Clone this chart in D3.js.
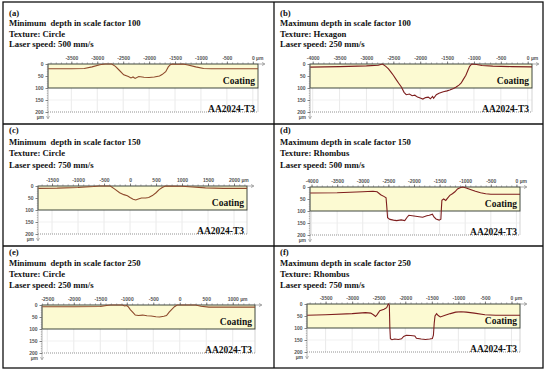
<!DOCTYPE html>
<html>
<head>
<meta charset="utf-8">
<script src="https://cdnjs.cloudflare.com/ajax/libs/d3/7.8.5/d3.min.js"></script>
<style>
body { margin: 0; background: #fff; }
.tick text { fill: #555; }
</style>
</head>
<body>
<div id="chart"></div>
<script>
var width = 550;
var height = 375;

// panel texts
var panelLetters = ["(a)", "(b)", "(c)", "(d)", "(e)", "(f)"];
var titles = ["Minimum  depth in scale factor 100", "Maximum depth in scale factor 100",
              "Minimum  depth in scale factor 150", "Maximum depth in scale factor 150",
              "Minimum  depth in scale factor 250", "Maximum depth in scale factor 250"];
var textures = ["Texture: Circle", "Texture: Hexagon", "Texture: Circle",
                "Texture: Rhombus", "Texture: Circle", "Texture: Rhombus"];
var speeds = ["Laser speed: 500 mm/s", "Laser speed: 250 mm/s", "Laser speed: 750 mm/s",
              "Laser speed: 500 mm/s", "Laser speed: 250 mm/s", "Laser speed: 750 mm/s"];

// x ticks (um) for every panel
var xTicksA = [-3500, -3000, -2500, -2000, -1500, -1000, -500, 0];
var xTicksB = [-4000, -3500, -3000, -2500, -2000, -1500, -1000, -500, 0];
var xTicksC = [-1500, -1000, -500, 0, 500, 1000, 1500, 2000];
var xTicksD = [-4000, -3500, -3000, -2500, -2000, -1500, -1000, -500, 0];
var xTicksE = [-2500, -2000, -1500, -1000, -500, 0, 500, 1000];
var xTicksF = [-3500, -3000, -2500, -2000, -1500, -1000, -500, 0];

// x extents (um) of each profile window
var xExtentA = [-3950, 100];
var xExtentB = [-4050, 80];
var xExtentC = [-1770, 2250];
var xExtentD = [-4030, 70];
var xExtentE = [-2600, 1420];
var xExtentF = [-3850, 160];

var depthTicks = [0, 50, 100, 150, 200];
var depthMax = 200;
var coatingDepth = 100;

// profiles: [position um, depth um]
var profileA = [[-3950,20],[-3500,20],[-3250,19],[-3100,12],[-2950,3],[-2850,0],[-2720,0],[-2650,10],[-2580,25],
  [-2490,45],[-2400,52],[-2350,58],[-2310,54],[-2270,60],[-2200,52],[-2100,55],[-2000,56],[-1900,54],[-1800,50],
  [-1750,44],[-1680,32],[-1630,12],[-1590,3],[-1550,0],[-1450,1],[-1350,0],[-1250,4],[-1100,12],[-950,19],
  [-800,20],[-400,20],[0,20],[100,20]];
var profileB = [[-4050,13],[-3500,11],[-3000,8],[-2780,5],[-2700,0],[-2640,10],[-2590,20],[-2540,35],[-2500,47],
  [-2440,67],[-2400,80],[-2350,96],[-2300,118],[-2260,128],[-2200,125],[-2150,132],[-2100,130],[-2050,138],
  [-2000,142],[-1950,146],[-1900,140],[-1850,138],[-1810,145],[-1770,135],[-1750,143],[-1700,128],[-1650,122],
  [-1570,116],[-1500,112],[-1450,108],[-1380,102],[-1330,96],[-1280,88],[-1240,80],[-1200,65],[-1150,47],
  [-1110,25],[-1080,10],[-1040,0],[-950,2],[-850,6],[-650,9],[-300,11],[80,12]];
var profileC = [[-1770,10],[-1400,9],[-1000,6],[-700,2],[-600,0],[-380,0],[-300,12],[-200,28],[-120,36],[-50,41],
  [0,48],[60,55],[110,58],[160,54],[220,50],[300,50],[360,48],[430,40],[500,28],[560,15],[620,6],[680,0],
  [1000,1],[1200,4],[1450,8],[1800,10],[2250,10]];
var profileD = [[-4030,25],[-3500,24],[-3000,20],[-2800,18],[-2720,20],[-2650,32],[-2580,40],[-2545,45],[-2530,85],
  [-2515,128],[-2470,135],[-2400,138],[-2340,140],[-2250,137],[-2180,140],[-2130,125],[-2100,118],[-2000,121],
  [-1900,124],[-1830,126],[-1750,120],[-1700,118],[-1640,113],[-1610,125],[-1570,133],[-1510,138],[-1475,134],
  [-1465,90],[-1455,55],[-1420,50],[-1380,56],[-1340,45],[-1300,35],[-1250,28],[-1200,20],[-1150,8],[-1100,3],
  [-1050,0],[-980,4],[-900,10],[-800,18],[-700,24],[-600,28],[-500,30],[0,30],[70,30]];
var profileE = [[-2600,7],[-2000,7],[-1500,6],[-1350,1],[-1300,0],[-1080,0],[-1040,4],[-1000,2],[-970,8],[-930,20],
  [-880,32],[-840,42],[-780,44],[-700,42],[-620,45],[-540,46],[-450,49],[-380,50],[-300,47],[-250,44],[-200,30],
  [-150,18],[-100,7],[-50,0],[300,0],[400,5],[550,9],[800,9],[1420,9]];
var profileF = [[-3850,47],[-3500,45],[-3000,40],[-2750,36],[-2650,38],[-2600,45],[-2560,52],[-2530,44],[-2480,28],
  [-2400,22],[-2350,15],[-2320,0],[-2300,5],[-2290,100],[-2280,145],[-2250,149],[-2200,146],[-2130,148],
  [-2070,145],[-2030,135],[-1980,130],[-1900,131],[-1820,133],[-1790,143],[-1700,146],[-1620,148],[-1540,146],
  [-1490,144],[-1470,130],[-1455,80],[-1440,50],[-1410,40],[-1380,48],[-1340,54],[-1250,47],[-1150,40],
  [-1050,34],[-950,32],[-850,34],[-700,38],[-500,45],[-300,47],[160,47]];

// panel placement in the page
var panels = [
  {left: 3,   head: 16,  gap: 10.4, x0: 48,  x1: 258, y0: 64,  ticks: xTicksA, ext: xExtentA, profile: profileA, color: "#8e4a2c"},
  {left: 274, head: 16,  gap: 10.4, x0: 310, x1: 532, y0: 64,  ticks: xTicksB, ext: xExtentB, profile: profileB, color: "#7e1e1e"},
  {left: 3,   head: 133, gap: 11.5, x0: 38,  x1: 247, y0: 186, ticks: xTicksC, ext: xExtentC, profile: profileC, color: "#8e4a2c"},
  {left: 274, head: 133, gap: 11.5, x0: 310, x1: 520, y0: 187, ticks: xTicksD, ext: xExtentD, profile: profileD, color: "#7e1e1e"},
  {left: 3,   head: 255, gap: 11,   x0: 42,  x1: 255, y0: 305, ticks: xTicksE, ext: xExtentE, profile: profileE, color: "#8e4a2c"},
  {left: 274, head: 255, gap: 11,   x0: 307, x1: 520, y0: 304, ticks: xTicksF, ext: xExtentF, profile: profileF, color: "#7e1e1e"}
];

var serif = "'Liberation Serif', 'Times New Roman', serif";
var sans = "'Liberation Sans', Arial, sans-serif";

var svg = d3.select("#chart")
  .append("svg")
  .attr("width", width)
  .attr("height", height);

svg.append("rect")
  .attr("width", width).attr("height", height)
  .attr("fill", "#fff");

// frame and dividers
svg.append("rect")
  .attr("x", 3).attr("y", 2)
  .attr("width", 540).attr("height", 366)
  .attr("fill", "none").attr("stroke", "#111").attr("stroke-width", 1.3);
svg.append("line").attr("x1", 274).attr("x2", 274).attr("y1", 2).attr("y2", 368)
  .attr("stroke", "#111").attr("stroke-width", 1.3);
[124, 246].forEach(function(y) {
  svg.append("line").attr("x1", 3).attr("x2", 543).attr("y1", y).attr("y2", y)
    .attr("stroke", "#111").attr("stroke-width", 1.3);
});

panels.forEach(function(p, i) {
  var g = svg.append("g");

  // header texts
  var lines = [panelLetters[i], titles[i], textures[i], speeds[i]];
  g.selectAll("text.head")
    .data(lines)
    .enter()
    .append("text")
    .attr("class", "head")
    .attr("x", p.left + 6)
    .attr("y", function(d, k) { return p.head + k * p.gap; })
    .attr("font-family", serif)
    .attr("font-weight", "bold")
    .attr("font-size", "8.7px")
    .attr("fill", "#111")
    .style("white-space", "pre")
    .text(function(d) { return d; });

  var xScale = d3.scaleLinear().domain(p.ext).range([p.x0, p.x1]);
  var yScale = d3.scaleLinear().domain([0, depthMax]).range([p.y0, p.y0 + 48]);

  // light grid in the substrate area
  g.selectAll("line.vgrid")
    .data(p.ticks)
    .enter()
    .append("line")
    .attr("x1", function(d) { return xScale(d); })
    .attr("x2", function(d) { return xScale(d); })
    .attr("y1", yScale(coatingDepth)).attr("y2", yScale(depthMax))
    .attr("stroke", "#e4e4e4").attr("stroke-width", 0.8);
  g.append("line")
    .attr("x1", p.x0).attr("x2", p.x1)
    .attr("y1", yScale(150)).attr("y2", yScale(150))
    .attr("stroke", "#eeeeee").attr("stroke-width", 0.8);
  g.append("line")
    .attr("x1", p.x1).attr("x2", p.x1)
    .attr("y1", yScale(coatingDepth)).attr("y2", yScale(depthMax))
    .attr("stroke", "#c8c8c8").attr("stroke-width", 0.8);

  // dotted line at 200 um
  g.append("line")
    .attr("x1", p.x0).attr("x2", p.x1)
    .attr("y1", yScale(depthMax)).attr("y2", yScale(depthMax))
    .attr("stroke", "#777").attr("stroke-width", 0.8)
    .attr("stroke-dasharray", "1,1");

  // coating band
  g.append("rect")
    .attr("x", p.x0).attr("y", yScale(0))
    .attr("width", p.x1 - p.x0)
    .attr("height", yScale(coatingDepth) - yScale(0))
    .attr("fill", "#fcfad2")
    .attr("stroke", "#2b332b").attr("stroke-width", 0.9);

  // profile line
  var line = d3.line()
    .x(function(d) { return xScale(d[0]); })
    .y(function(d) { return yScale(d[1]); });
  g.append("path")
    .datum(p.profile)
    .attr("d", line)
    .attr("fill", "none")
    .attr("stroke", p.color)
    .attr("stroke-width", 1.1);

  // x axis (top)
  var minor = d3.range(Math.ceil(p.ext[0] / 100) * 100, p.ext[1], 100);
  var xMinor = g.append("g")
    .attr("transform", "translate(0," + p.y0 + ")")
    .call(d3.axisTop(xScale).tickValues(minor).tickSize(1.5).tickFormat(""));
  xMinor.select(".domain").remove();
  xMinor.selectAll("line").attr("stroke", "#666").attr("stroke-width", 0.6);

  var xAxis = g.append("g")
    .attr("transform", "translate(0," + p.y0 + ")")
    .call(d3.axisTop(xScale).tickValues(p.ticks).tickSize(2.5).tickPadding(2)
      .tickFormat(function(d) { return String(d); }));
  xAxis.select(".domain").remove();
  xAxis.selectAll("line").attr("stroke", "#555").attr("stroke-width", 0.7);
  xAxis.selectAll("text")
    .attr("font-family", sans)
    .attr("font-size", "5px")
    .attr("font-weight", "bold");

  // unit after last tick label
  var last = xAxis.selectAll(".tick text").filter(function(d) { return d === p.ticks[p.ticks.length - 1]; });
  last.each(function() {
    var w = this.getComputedTextLength();
    d3.select(this).attr("text-anchor", "start").attr("x", -w / 2);
    d3.select(this).append("tspan").text(" \u00b5m");
  });

  // axis arrow to the right
  g.append("line")
    .attr("x1", p.x1).attr("x2", p.x1 + 6)
    .attr("y1", p.y0).attr("y2", p.y0)
    .attr("stroke", "#777").attr("stroke-width", 0.6);
  g.append("path")
    .attr("d", "M" + (p.x1 + 4) + "," + (p.y0 - 1.5) + " L" + (p.x1 + 7) + "," + p.y0 + " L" + (p.x1 + 4) + "," + (p.y0 + 1.5))
    .attr("fill", "none").attr("stroke", "#777").attr("stroke-width", 0.6);

  // y axis (left)
  var yMinor = g.append("g")
    .attr("transform", "translate(" + p.x0 + ",0)")
    .call(d3.axisLeft(yScale).tickValues(d3.range(0, depthMax + 1, 10)).tickSize(1.2).tickFormat(""));
  yMinor.select(".domain").remove();
  yMinor.selectAll("line").attr("stroke", "#777").attr("stroke-width", 0.5);

  var yAxis = g.append("g")
    .attr("transform", "translate(" + p.x0 + ",0)")
    .call(d3.axisLeft(yScale).tickValues(depthTicks).tickSize(2.5).tickPadding(2));
  yAxis.select(".domain").remove();
  yAxis.selectAll("line").attr("stroke", "#555").attr("stroke-width", 0.7);
  yAxis.selectAll("text")
    .attr("font-family", sans)
    .attr("font-size", "5px")
    .attr("font-weight", "bold");

  g.append("line")
    .attr("x1", p.x0).attr("x2", p.x0)
    .attr("y1", p.y0).attr("y2", p.y0 + 54)
    .attr("stroke", "#888").attr("stroke-width", 0.6);
  g.append("path")
    .attr("d", "M" + (p.x0 - 1.5) + "," + (p.y0 + 52) + " L" + p.x0 + "," + (p.y0 + 55) + " L" + (p.x0 + 1.5) + "," + (p.y0 + 52))
    .attr("fill", "none").attr("stroke", "#888").attr("stroke-width", 0.6);
  g.append("text")
    .attr("x", p.x0 - 4).attr("y", p.y0 + 55)
    .attr("text-anchor", "end")
    .attr("font-family", sans)
    .attr("font-size", "5px")
    .attr("font-weight", "bold")
    .attr("fill", "#555")
    .text("\u00b5m");

  // labels inside the plot
  g.append("text")
    .attr("x", p.x1 - 3).attr("y", yScale(coatingDepth) - 4)
    .attr("text-anchor", "end")
    .attr("font-family", serif)
    .attr("font-weight", "bold")
    .attr("font-size", "9.5px")
    .attr("fill", "#111")
    .text("Coating");
  g.append("text")
    .attr("x", p.x1 - 3).attr("y", yScale(depthMax) - 0.5)
    .attr("text-anchor", "end")
    .attr("font-family", serif)
    .attr("font-weight", "bold")
    .attr("font-size", "9.5px")
    .attr("fill", "#111")
    .text("AA2024-T3");
});
</script>
</body>
</html>
